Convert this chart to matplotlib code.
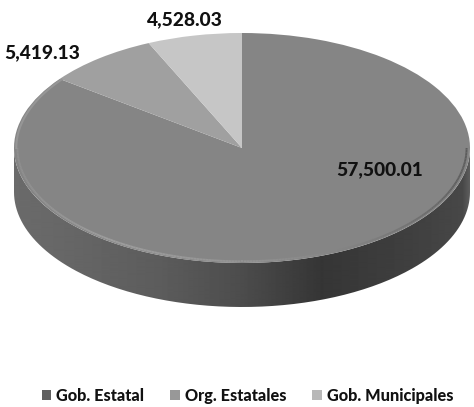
#!/usr/bin/python3
import numpy as np
import matplotlib
matplotlib.use('Agg')
import matplotlib.pyplot as plt
from matplotlib.patches import Patch, PathPatch
from matplotlib.path import Path
from matplotlib.collections import LineCollection

categorias = ['Gob. Estatal', 'Org. Estatales', 'Gob. Municipales']
valores = [57500.01, 5419.13, 4528.03]
etiquetas = ['57,500.01', '5,419.13', '4,528.03']
colores = ['#858585', '#a0a0a0', '#c6c6c6']
colores_leyenda = ['#606060', '#989898', '#b8b8b8']

plt.rcParams['font.family'] = ['Lato', 'DejaVu Sans']

W, H = 474, 407
cx, cy = 242, 148   # centro de la elipse en pixeles
rx, ry = 228, 115
prof = 44 / ry      # alto de la pared lateral


def px(x, y):
    # pixeles de la imagen -> datos del eje
    return (x - cx) / rx, (cy - y) / ry


fig = plt.figure(figsize=(W / 100, H / 100), dpi=100)
ax = fig.add_axes([0, 0, 1, 1])

# pared lateral con degradado
t = np.linspace(np.pi, 2 * np.pi, 200)
xs = np.concatenate([np.cos(t), np.cos(t[::-1])])
ys = np.concatenate([np.sin(t) - prof, np.sin(t[::-1])])
pared = PathPatch(Path(np.column_stack([xs, ys])), facecolor='none', edgecolor='none')
ax.add_patch(pared)
tonos_x = [-1.0, -0.75, -0.35, 0.0, 0.35, 0.75, 0.97, 1.0]
tonos_g = [0.42, 0.40, 0.36, 0.30, 0.21, 0.25, 0.28, 0.36]
grad = np.interp(np.linspace(-1, 1, 456), tonos_x, tonos_g).reshape(1, -1)
img = ax.imshow(grad, cmap='gray', vmin=0, vmax=1, extent=[-1, 1, -1 - prof, 0.1],
                aspect='auto', interpolation='bilinear', zorder=1)
img.set_clip_path(pared)

# cara superior
wedges, _ = ax.pie(valores, colors=colores, startangle=90, counterclock=False,
                   radius=1, center=(0, 0), wedgeprops={'linewidth': 0, 'zorder': 2})

# bisel del borde
t = np.linspace(np.pi, 2 * np.pi, 240)
r = 0.985
pts = np.column_stack([r * np.cos(t), r * np.sin(t)])
segs = np.stack([pts[:-1], pts[1:]], axis=1)
cs = np.interp(np.cos(t[:-1]), [-1, -0.6, 0.0, 0.55, 0.85, 1.0], [0.56, 0.62, 0.58, 0.50, 0.42, 0.36])
ax.add_collection(LineCollection(segs, colors=[(c, c, c) for c in cs], linewidths=1.4, zorder=3))
t = np.linspace(0.795 * np.pi, 1.0 * np.pi, 80)
ax.plot(0.99 * np.cos(t), 0.99 * np.sin(t), color='#969696', lw=1.5, zorder=3)

# etiquetas de datos
pos_etiquetas = [(380, 170), (42, 53), (185, 20)]
for texto, (x, y) in zip(etiquetas, pos_etiquetas):
    dx, dy = px(x, y)
    ax.text(dx, dy, texto, ha='center', va='center', fontsize=13.8,
            fontweight='black', color='#111111', zorder=5)

ax.set_aspect('auto')
ax.set_xlim((0 - cx) / rx, (W - cx) / rx)
ax.set_ylim((cy - H) / ry, cy / ry)
ax.axis('off')

# leyenda
handles = [Patch(facecolor=c, edgecolor='none') for c in colores_leyenda]
ax.legend(handles, categorias, ncol=3, frameon=False, loc='center',
          bbox_to_anchor=(247.5 / W, 1 - 396 / H), prop={'size': 11.7, 'weight': 'black'},
          handlelength=0.6, handleheight=0.6, handletextpad=0.3, columnspacing=1.6,
          labelcolor='#111111')

fig.savefig('out.png', dpi=100)
